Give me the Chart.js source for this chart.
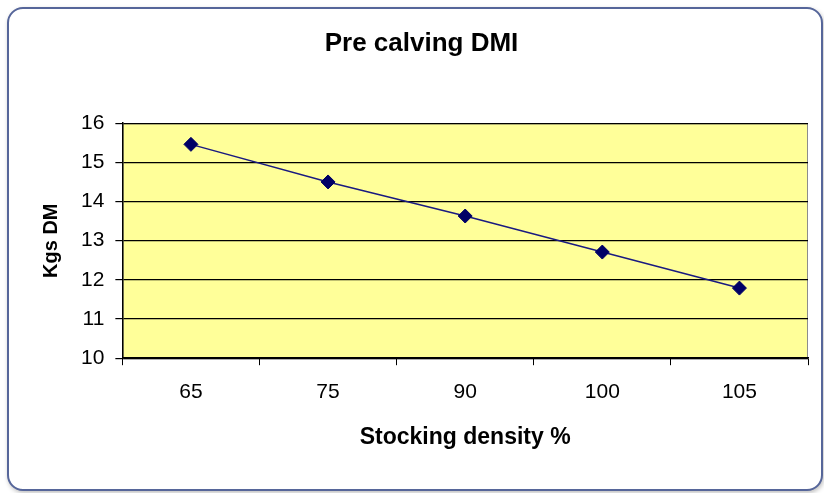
<!DOCTYPE html>
<html>
<head>
<meta charset="utf-8">
<script src="https://cdn.jsdelivr.net/npm/chart.js@4.4.1/dist/chart.umd.min.js"></script>
<style>
    html, body { margin: 0; padding: 0; background: #ffffff; }
    #frame {
        position: absolute; left: 7px; top: 7px; width: 812px; height: 480px;
        border: 2px solid #56669a; border-radius: 16px;
        box-shadow: 1px 2px 4px rgba(0,0,0,0.25);
        background: #ffffff;
    }
    #wrap { position: absolute; left: 0; top: 0; width: 824px; height: 493px; }
</style>
</head>
<body>
<div id="frame"></div>
<div id="wrap"><canvas id="dmiChart" width="824" height="493"></canvas></div>
<script>
// Chart data
const densities = ['65', '75', '90', '100', '105'];
const dmiValues = [15.46, 14.5, 13.63, 12.71, 11.79];
const yTicks = [10, 11, 12, 13, 14, 15, 16];

// Yellow plot background with a grey frame
const plotBackground = {
    id: 'plotBackground',
    beforeDraw(chart) {
        const { ctx, chartArea: a } = chart;
        ctx.save();
        ctx.fillStyle = '#ffff99';
        ctx.fillRect(a.left, a.top, a.right - a.left, a.bottom - a.top);
        ctx.strokeStyle = '#8c8c8c';
        ctx.lineWidth = 1;
        ctx.strokeRect(a.left + 0.5, a.top + 0.5, a.right - a.left - 1, a.bottom - a.top);
        ctx.restore();
    }
};

const ctx = document.getElementById('dmiChart').getContext('2d');
new Chart(ctx, {
    type: 'line',
    data: {
        labels: densities,
        datasets: [{
            data: dmiValues,
            borderColor: '#1a1a80',
            backgroundColor: '#000066',
            borderWidth: 1.5,
            pointStyle: 'rectRot',
            pointRadius: 7,
            pointBorderWidth: 1,
            pointBorderColor: '#000066',
            fill: false,
            tension: 0
        }]
    },
    options: {
        responsive: false,
        animation: false,
        layout: { padding: { top: 14, right: 16, bottom: 38, left: 35 } },
        plugins: {
            legend: { display: false },
            tooltip: { enabled: false },
            title: {
                display: true,
                text: 'Pre calving DMI',
                color: '#000000',
                font: { family: 'Liberation Sans', size: 26, weight: 'bold' },
                padding: { top: 14, bottom: 64 }
            }
        },
        scales: {
            x: {
                offset: true,
                grid: {
                    offset: true,
                    drawOnChartArea: false,
                    color: '#000000',
                    tickLength: 7
                },
                border: { color: '#000000', width: 1.5 },
                ticks: {
                    color: '#000000',
                    padding: 14,
                    font: { family: 'Liberation Sans', size: 21 }
                },
                title: {
                    display: true,
                    text: 'Stocking density %',
                    color: '#000000',
                    font: { family: 'Liberation Sans', size: 23, weight: 'bold' },
                    padding: { top: 5 }
                }
            },
            y: {
                min: 10,
                max: 16,
                afterBuildTicks(axis) {
                    axis.ticks = yTicks.map(v => ({ value: v }));
                },
                grid: {
                    color: '#000000',
                    lineWidth: 1.2,
                    tickLength: 7
                },
                border: { color: '#000000', width: 1.5 },
                ticks: {
                    color: '#000000',
                    padding: 11,
                    font: { family: 'Liberation Sans', size: 21 }
                },
                title: {
                    display: true,
                    text: 'Kgs DM',
                    color: '#000000',
                    font: { family: 'Liberation Sans', size: 20, weight: 'bold' },
                    padding: { bottom: 7 }
                }
            }
        }
    },
    plugins: [plotBackground]
});
</script>
</body>
</html>
